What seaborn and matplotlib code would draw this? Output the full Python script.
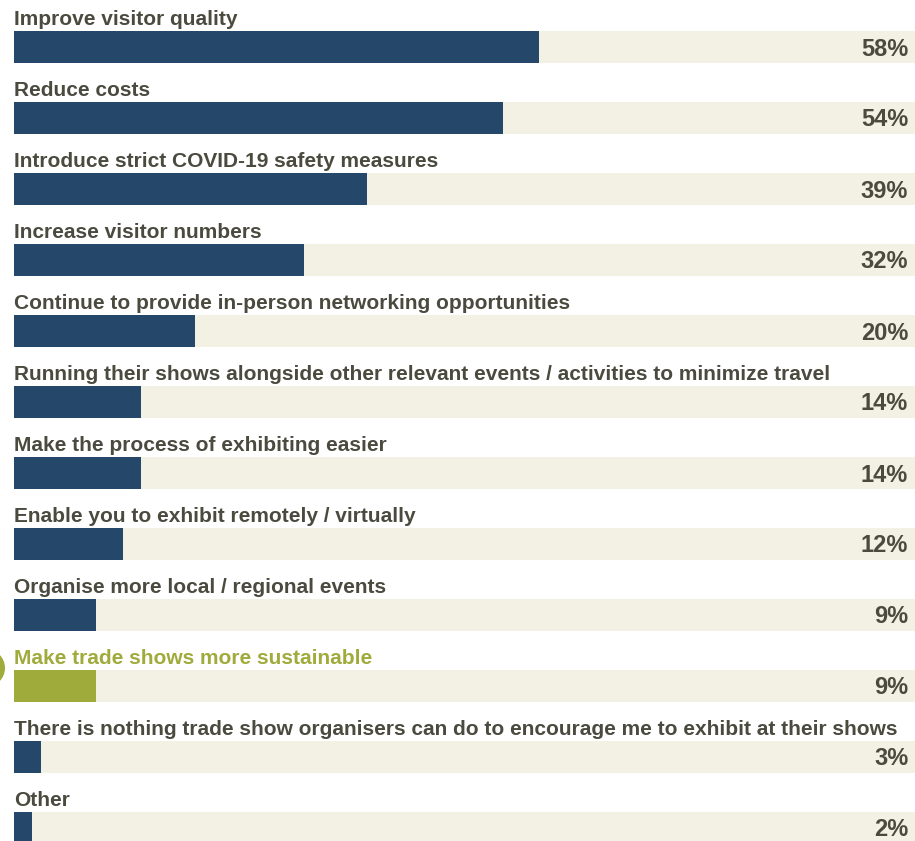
import matplotlib
matplotlib.use("Agg")
import matplotlib.pyplot as plt
from matplotlib.patches import Circle
from matplotlib.transforms import IdentityTransform
import seaborn as sns
import pandas as pd

labels = [
    "Improve visitor quality",
    "Reduce costs",
    "Introduce strict COVID-19 safety measures",
    "Increase visitor numbers",
    "Continue to provide in-person networking opportunities",
    "Running their shows alongside other relevant events / activities to minimize travel",
    "Make the process of exhibiting easier",
    "Enable you to exhibit remotely / virtually",
    "Organise more local / regional events",
    "Make trade shows more sustainable",
    "There is nothing trade show organisers can do to encourage me to exhibit at their shows",
    "Other",
]
values = [58, 54, 39, 32, 20, 14, 14, 12, 9, 9, 3, 2]
highlight = "Make trade shows more sustainable"

NAVY = "#25476a"
GREEN = "#9fab3b"
TRACK = "#f3f0e4"
TEXT = "#4b4a3f"

df = pd.DataFrame({"label": labels, "value": values, "track": [100] * len(labels)})
palette = {l: (GREEN if l == highlight else NAVY) for l in labels}

sns.set_theme(style="white")
plt.rcParams["font.family"] = ["Liberation Sans", "DejaVu Sans"]

W, H = 915, 841
fig = plt.figure(figsize=(W / 100, H / 100), dpi=100)
# the 100% track runs slightly past the right edge of the canvas
ax = fig.add_axes([14 / W, 0, 906 / W, 1])

bar_w = 32 / 71
sns.barplot(data=df, x="track", y="label", color=TRACK, width=bar_w,
            saturation=1, linewidth=0, ax=ax, orient="h")
sns.barplot(data=df, x="value", y="label", hue="label", palette=palette,
            width=bar_w, saturation=1, linewidth=0, legend=False, ax=ax,
            orient="h")

ax.set_xlim(0, 100)
ax.set_ylim((H - 47) / 71, -47 / 71)
ax.axis("off")

for i, (lab, val) in enumerate(zip(labels, values)):
    col = GREEN if lab == highlight else TEXT
    ax.text(0, i - 22 / 71, lab, ha="left", va="baseline", fontsize=15,
            fontweight="bold", color=col, clip_on=False)
    ax.text(98.7, i + 8.5 / 71, f"{val}%", ha="right", va="baseline",
            fontsize=17, fontweight="bold", color=TEXT)

# marker dot next to the highlighted row
fig.add_artist(Circle((-14, H - 668), 19, transform=IdentityTransform(),
                      color=GREEN, linewidth=0, clip_on=False))

fig.savefig("out.png", dpi=100)
